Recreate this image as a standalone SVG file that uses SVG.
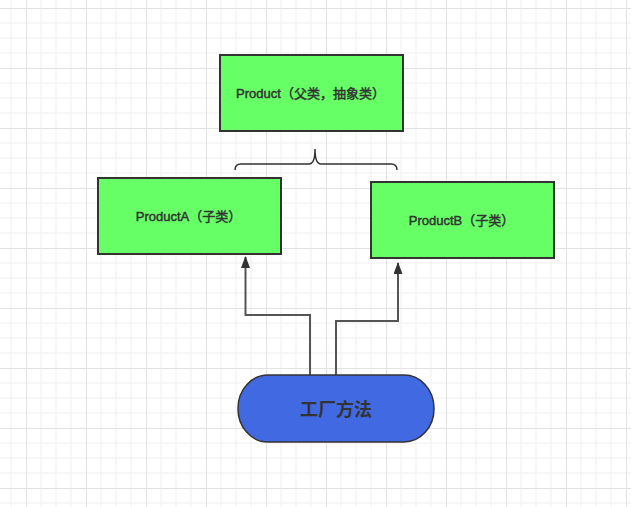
<svg xmlns="http://www.w3.org/2000/svg" width="631" height="507" viewBox="0 0 631 507">
<style>
.box{fill:#66ff66;stroke:#333;stroke-width:2}
.lbl{font-family:"Liberation Sans","Noto Sans CJK SC",sans-serif;font-size:13px;fill:#333;text-anchor:middle;stroke:#333;stroke-width:0.45}
.conn{fill:none;stroke:#555;stroke-width:2}
</style>
<defs>
<pattern id="grid" x="26" y="8" width="60" height="60" patternUnits="userSpaceOnUse">
<path d="M15 0V60M30 0V60M45 0V60M0 15H60M0 30H60M0 45H60" stroke="#efefef" stroke-width="1" fill="none"/>
<path d="M0.5 0V60M0 0.5H60" stroke="#e2e2e2" stroke-width="1" fill="none"/>
</pattern>
<marker id="arr" viewBox="0 0 12 9" refX="11" refY="4.5" markerWidth="12" markerHeight="9" orient="auto" markerUnits="userSpaceOnUse">
<path d="M0 0L12 4.5L0 9z" fill="#333"/>
</marker>
</defs>
<rect width="631" height="507" fill="#fff"/>
<rect width="631" height="507" fill="url(#grid)"/>
<g id="connectors">
<path class="conn" d="M310 375V315H245.5V257" marker-end="url(#arr)"/>
<path class="conn" d="M336 375V321H398V263" marker-end="url(#arr)"/>
<path d="M235 170Q235 164 241 164H309Q315 164 315 149Q315 164 321 164H391Q397 164 397 170" fill="none" stroke="#333" stroke-width="1.5"/>
</g>
<g id="product">
<rect class="box" x="220" y="55" width="183" height="76"/>
<text class="lbl" x="310.5" y="97.5">Product（父类，抽象类）</text>
</g>
<g id="productA">
<rect class="box" x="98" y="178" width="183" height="76"/>
<text class="lbl" x="188.5" y="221">ProductA（子类）</text>
</g>
<g id="productB">
<rect class="box" x="371" y="182" width="183" height="76"/>
<text class="lbl" x="461.5" y="225">ProductB（子类）</text>
</g>
<g id="factory">
<rect x="238" y="375" width="196" height="67" rx="30" ry="33" fill="#4169e1" stroke="#333" stroke-width="1.5"/>
<text x="336" y="416" font-family="'Noto Sans CJK SC',sans-serif" font-size="18" font-weight="bold" fill="#333" text-anchor="middle">工厂方法</text>
</g>
</svg>
